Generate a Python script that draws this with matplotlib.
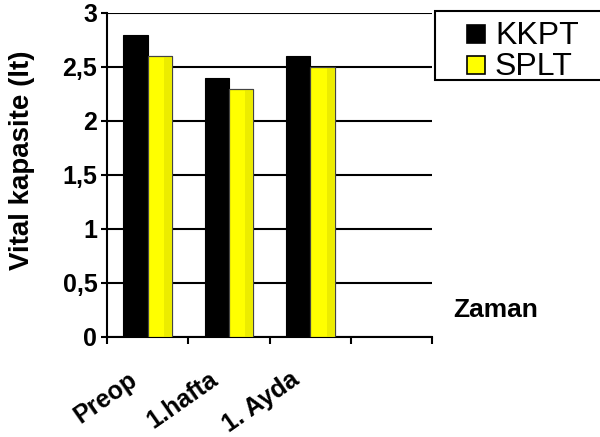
import numpy as np
import matplotlib
matplotlib.use("Agg")
import matplotlib.pyplot as plt
import matplotlib.transforms as mtransforms
from matplotlib.patches import Rectangle

plt.rcParams["font.family"] = ["Liberation Sans", "DejaVu Sans"]

categories = ["Preop", "1.hafta", "1. Ayda"]
kkpt = [2.8, 2.4, 2.6]
splt = [2.6, 2.3, 2.5]
series_names = ["KKPT", "SPLT"]
n_slots = 4  # last slot stays empty

W, H = 600, 437
fig = plt.figure(figsize=(W / 100, H / 100), dpi=100)
ax = fig.add_axes([107 / W, 1 - 337 / H, 325 / W, 324 / H])

x = np.arange(len(categories)) + 0.5
w = 0.3
ax.bar(x - w / 2, kkpt, w, color="black", edgecolor="black", linewidth=0.8,
       zorder=3)
ax.bar(x + w / 2, splt, w, color="#ffff00", edgecolor="#444444", linewidth=0.8,
       zorder=3)
# slightly darker band on the right side of the yellow bars
ax.bar(x + w * 0.82, splt, w * 0.28, color="#ecec00", linewidth=0, zorder=3.5)
ax.bar(x + w / 2, splt, w, facecolor="none", edgecolor="#444444",
       linewidth=0.8, zorder=4)

ax.set_xlim(0, n_slots)
ax.set_ylim(0, 3)
ax.set_yticks(np.arange(0, 3.01, 0.5))
ax.set_yticklabels(["0", "0,5", "1", "1,5", "2", "2,5", "3"],
                   fontsize=18, fontweight="bold")
ax.yaxis.grid(True, color="black", linewidth=1.5, zorder=0)
ax.set_axisbelow(True)

# boundary ticks between categories, labels at the centres
ax.set_xticks(np.arange(0, n_slots + 1))
ax.set_xticklabels([])
ax.set_xticks(x, minor=True)
ax.set_xticklabels(categories, minor=True, rotation=35, ha="right",
                   rotation_mode="anchor", fontsize=18, fontweight="bold")
ax.tick_params(axis="x", which="minor", length=0, pad=22)
ax.tick_params(axis="x", which="major", length=5, width=1.5, direction="out")
ax.tick_params(axis="y", length=4, width=1.5, direction="out", pad=3)
shift = mtransforms.ScaledTranslation(-20 / 100, 0, fig.dpi_scale_trans)
for lab in ax.get_xticklabels(minor=True):
    lab.set_transform(lab.get_transform() + shift)

for s in ["top", "right"]:
    ax.spines[s].set_visible(False)
ax.spines["left"].set_linewidth(1.5)
ax.spines["bottom"].set_linewidth(1.5)

fig.text(22 / W, 1 - 160 / H, "Vital kapasite (lt)", fontsize=20,
         fontweight="bold", rotation=90, ha="center", va="center")
fig.text(453 / W, 1 - 310 / H, "Zaman", fontsize=19, fontweight="bold",
         va="center")

# legend box, running off the right edge
fig.patches.append(Rectangle((435 / W, 1 - 80 / H), 200 / W, 69 / H,
                             transform=fig.transFigure, facecolor="white",
                             edgecolor="black", linewidth=1.5))
for i, (name, col) in enumerate(zip(series_names, ["black", "#ffff00"])):
    top = 24 + i * 31
    fig.patches.append(Rectangle((467 / W, 1 - (top + 19) / H), 18 / W, 18 / H,
                                 transform=fig.transFigure, facecolor=col,
                                 edgecolor="black", linewidth=1.2))
    fig.text(495 / W, 1 - (top + 20) / H, name, fontsize=23, va="baseline")

fig.savefig("out.png", dpi=100)
